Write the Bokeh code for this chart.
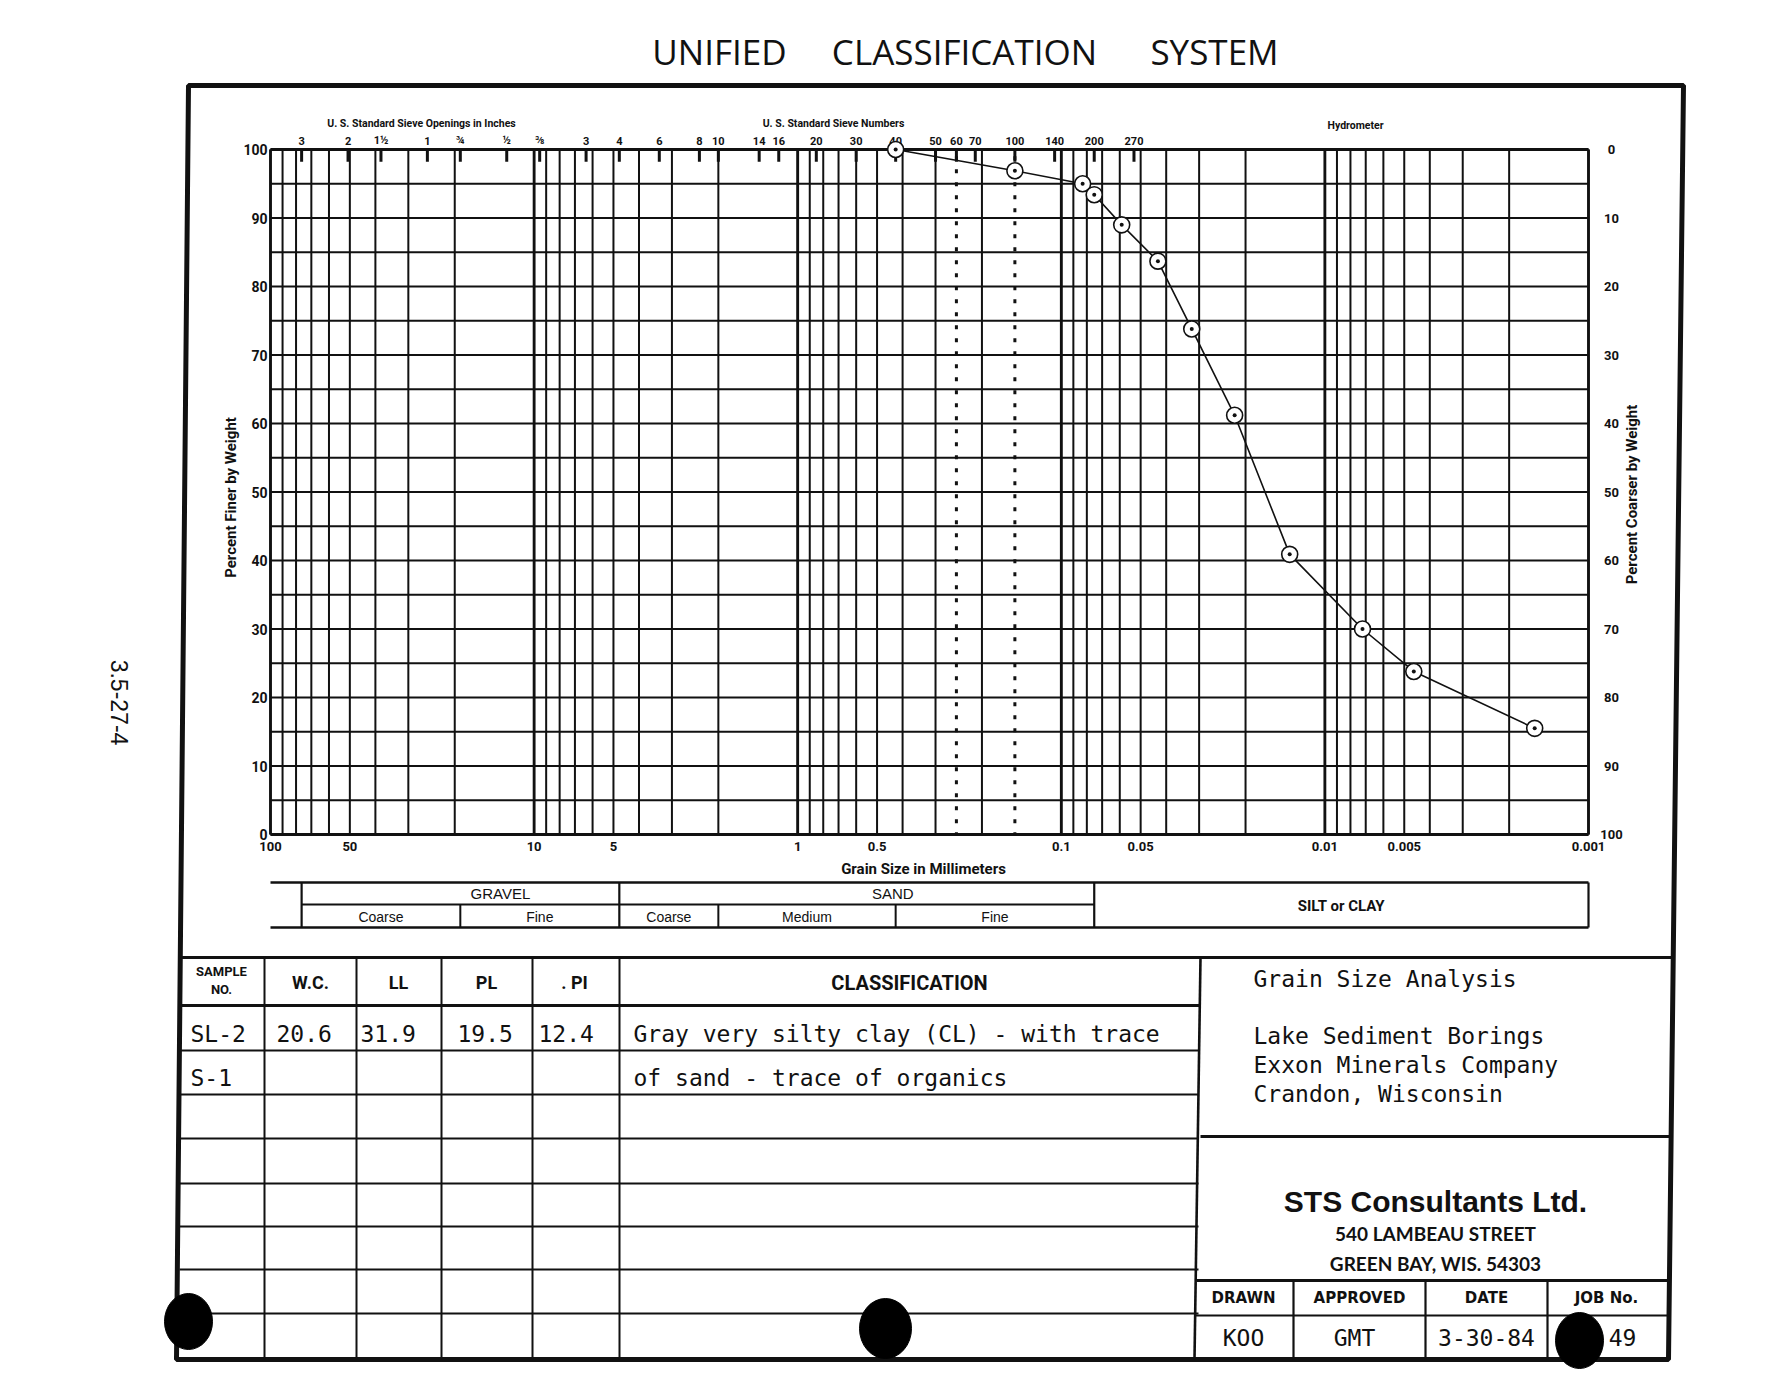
import math
from bokeh.plotting import figure
from bokeh.models import Range1d, LogScale
from bokeh.core.properties import value
from bokeh.embed import file_html
from bokeh.resources import INLINE

# ---------------- data read from the sheet ----------------
GRAIN_MM = [0.425, 0.15, 0.083, 0.075, 0.059, 0.043, 0.032, 0.022, 0.0136, 0.0072, 0.0046, 0.0016]
PCT_FINER = [100, 96.9, 95.0, 93.4, 89.0, 83.7, 73.8, 61.2, 40.9, 30.0, 23.8, 15.5]

SIEVE_LABELS = ["3", "2", "1½", "1", "¾", "½", "⅜", "3", "4", "6", "8", "10", "14", "16",
                "20", "30", "40", "50", "60", "70", "100", "140", "200", "270"]
SIEVE_MM = [76.2, 50.8, 38.1, 25.4, 19.05, 12.7, 9.525, 6.35, 4.75, 3.35, 2.36, 2.0, 1.40, 1.18,
            0.85, 0.60, 0.425, 0.30, 0.25, 0.212, 0.15, 0.106, 0.075, 0.053]

X_TICK_MM = [100, 50, 10, 5, 1, 0.5, 0.1, 0.05, 0.01, 0.005, 0.001]
X_TICK_LABELS = ["100", "50", "10", "5", "1", "0.5", "0.1", "0.05", "0.01", "0.005", "0.001"]
Y_TICKS = [0, 10, 20, 30, 40, 50, 60, 70, 80, 90, 100]
Y_GRID = [0, 5, 10, 15, 20, 25, 30, 35, 40, 45, 50, 55, 60, 65, 70, 75, 80, 85, 90, 95, 100]
GRID_MM = [100, 90, 80, 70, 60, 50, 40, 30, 20,
           10, 9, 8, 7, 6, 5, 4, 3, 2,
           1, 0.9, 0.8, 0.7, 0.6, 0.5, 0.4, 0.3, 0.2,
           0.1, 0.09, 0.08, 0.07, 0.06, 0.05, 0.04, 0.03, 0.02,
           0.01, 0.009, 0.008, 0.007, 0.006, 0.005, 0.004, 0.003, 0.002, 0.001]
DECADE_MM = [100, 10, 1, 0.1, 0.01, 0.001]
DOTTED_MM = [0.25, 0.15]

BAND_MAIN_BOUNDS = [76.2, 4.75, 0.075, 0.001]
BAND_SUB_BOUNDS = [19.05, 2.0, 0.425]
MAIN_LABELS = ["GRAVEL", "SAND"]
SUB_LABELS = ["Coarse", "Fine", "Coarse", "Medium", "Fine"]
SUB_CELLS = [(76.2, 19.05), (19.05, 4.75), (4.75, 2.0), (2.0, 0.425), (0.425, 0.075)]
SILT_LABEL = "SILT or CLAY"

TABLE_HEADERS = ["W.C.", "LL", "PL", ". PI", "CLASSIFICATION"]
SAMPLE_NO = ["SL-2", "S-1"]
WC = ["20.6", ""]
LL = ["31.9", ""]
PL = ["19.5", ""]
PI = ["12.4", ""]
CLASSIFICATION = ["Gray very silty clay (CL) - with trace", "of sand - trace of organics"]
PROJECT_LINES = ["Grain Size Analysis", "Lake Sediment Borings", "Exxon Minerals Company", "Crandon, Wisconsin"]
FIRM = ["STS Consultants Ltd.", "540 LAMBEAU STREET", "GREEN BAY, WIS. 54303"]
SIGN_HEADERS = ["DRAWN", "APPROVED", "DATE", "JOB No."]
SIGN_VALUES = ["KOO", "GMT", "3-30-84", "49"]

# ---------------- page geometry (page pixels) ----------------
PL_, PR_, PT_, PB_ = 0, 1775, 0, 1372
X0, X1 = 270, 1588          # page x of 100 mm and of 0.001 mm
Y100, Y0 = 149, 834         # page y of 100 % and 0 %
DEC = (X1 - X0) / 5.0
PPP = (Y0 - Y100) / 100.0

gs_start = 10 ** (2 + (X0 - PL_) / DEC)
gs_end = 10 ** (2 - (PR_ - X0) / DEC)
pct_bottom = (Y0 - PB_) / PPP
pct_top = (Y0 - PT_) / PPP

p = figure(width=PR_ - PL_, height=PB_ - PT_,
           x_range=Range1d(PL_, PR_), y_range=Range1d(PB_, PT_),
           output_backend="svg", toolbar_location=None, min_border=0,
           x_axis_location=None, y_axis_location=None)
p.extra_x_ranges = {"gs": Range1d(gs_start, gs_end)}
p.extra_x_scales = {"gs": LogScale()}
p.extra_y_ranges = {"pct": Range1d(pct_bottom, pct_top)}
p.grid.visible = False
p.outline_line_color = None
p.background_fill_color = "white"
p.border_fill_color = "white"

BOLD = value("Roboto")
MONO = value("DejaVu Sans Mono")
INK = "#111111"

# ---------------- title & side note ----------------
p.text(x=[719, 964, 1214], y=[51, 51, 51], text=["UNIFIED", "CLASSIFICATION", "SYSTEM"],
       text_font=value("Open Sans"), text_font_size="35px", text_align="center",
       text_baseline="middle", text_color=INK)
p.text(x=[119], y=[702], text=["3.5-27-4"], angle=-math.pi / 2, text_font=value("Liberation Sans"),
       text_font_size="23px", text_align="center", text_baseline="middle", text_color=INK)

# ---------------- outer frame ----------------
p.patch(x=[188, 1683, 1668, 176], y=[85, 85, 1359, 1359], fill_color=None,
        line_color=INK, line_width=5)
p.line(x=[180, 1673], y=[957, 957], line_color=INK, line_width=3)

# ---------------- graph paper grid ----------------
p.multi_line(xs=[[v, v] for v in GRID_MM], ys=[[0, 100] for _ in GRID_MM],
             x_range_name="gs", y_range_name="pct", line_color=INK, line_width=2)
p.multi_line(xs=[[v, v] for v in DECADE_MM], ys=[[0, 100] for _ in DECADE_MM],
             x_range_name="gs", y_range_name="pct", line_color=INK, line_width=2.8)
p.multi_line(xs=[[100, 0.001] for _ in Y_GRID], ys=[[v, v] for v in Y_GRID],
             x_range_name="gs", y_range_name="pct", line_color=INK, line_width=1.8)
p.multi_line(xs=[[100, 0.001], [100, 0.001]], ys=[[0, 0], [100, 100]],
             x_range_name="gs", y_range_name="pct", line_color=INK, line_width=3)
# sieve tick marks along the top edge
p.multi_line(xs=[[v, v] for v in SIEVE_MM], ys=[[100, 98.2] for _ in SIEVE_MM],
             x_range_name="gs", y_range_name="pct", line_color=INK, line_width=3)
# dotted marker lines
p.multi_line(xs=[[v, v] for v in DOTTED_MM], ys=[[99, 0] for _ in DOTTED_MM],
             x_range_name="gs", y_range_name="pct", line_color=INK, line_width=3,
             line_dash="4 9")

# ---------------- axis texts ----------------
p.text(x=[421, 833, 1355], y=[123, 123, 125],
       text=["U. S. Standard Sieve Openings in Inches", "U. S. Standard Sieve Numbers", "Hydrometer"],
       text_font=BOLD, text_font_style="bold", text_font_size="10.5px",
       text_align="center", text_baseline="middle", text_color=INK)
p.text(x=SIEVE_MM, y=[140] * len(SIEVE_MM), text=SIEVE_LABELS, x_range_name="gs",
       text_font=BOLD, text_font_style="bold", text_font_size="11px",
       text_align="center", text_baseline="middle", text_color=INK)
p.text(x=[267] * len(Y_TICKS), y=Y_TICKS, text=[str(v) for v in Y_TICKS], y_range_name="pct",
       text_font=BOLD, text_font_style="bold", text_font_size="14px",
       text_align="right", text_baseline="middle", text_color=INK)
p.text(x=[1611] * len(Y_TICKS), y=Y_TICKS, text=[str(100 - v) for v in Y_TICKS], y_range_name="pct",
       text_font=BOLD, text_font_style="bold", text_font_size="13px",
       text_align="center", text_baseline="middle", text_color=INK)
p.text(x=X_TICK_MM, y=[846] * len(X_TICK_MM), text=X_TICK_LABELS, x_range_name="gs",
       text_font=BOLD, text_font_style="bold", text_font_size="13px",
       text_align="center", text_baseline="middle", text_color=INK)
p.text(x=[923], y=[868], text=["Grain Size in Millimeters"],
       text_font=BOLD, text_font_style="bold", text_font_size="15px",
       text_align="center", text_baseline="middle", text_color=INK)
p.text(x=[230], y=[497], text=["Percent Finer by Weight"], angle=math.pi / 2,
       text_font=BOLD, text_font_style="bold", text_font_size="15px",
       text_align="center", text_baseline="middle", text_color=INK)
p.text(x=[1631], y=[494], text=["Percent Coarser by Weight"], angle=math.pi / 2,
       text_font=BOLD, text_font_style="bold", text_font_size="15px",
       text_align="center", text_baseline="middle", text_color=INK)

# ---------------- gradation curve ----------------
p.line(GRAIN_MM, PCT_FINER, x_range_name="gs", y_range_name="pct", line_color=INK, line_width=1.6)
p.scatter(GRAIN_MM, PCT_FINER, x_range_name="gs", y_range_name="pct", marker="circle_dot",
          size=16, fill_color="white", line_color=INK, line_width=1.6)

# ---------------- classification band ----------------
BT, BM, BB = 882, 904, 927
p.multi_line(xs=[[100, 0.001], [100, 0.001]], ys=[[BT, BT], [BB, BB]], x_range_name="gs",
             line_color=INK, line_width=2.6)
p.multi_line(xs=[[76.2, 0.075]], ys=[[BM, BM]], x_range_name="gs", line_color=INK, line_width=1.8)
p.multi_line(xs=[[v, v] for v in BAND_MAIN_BOUNDS], ys=[[BT, BB] for _ in BAND_MAIN_BOUNDS],
             x_range_name="gs", line_color=INK, line_width=2.2)
p.multi_line(xs=[[v, v] for v in BAND_SUB_BOUNDS], ys=[[BM, BB] for _ in BAND_SUB_BOUNDS],
             x_range_name="gs", line_color=INK, line_width=2)
p.text(x=[math.sqrt(BAND_MAIN_BOUNDS[0] * BAND_MAIN_BOUNDS[1]),
          math.sqrt(BAND_MAIN_BOUNDS[1] * BAND_MAIN_BOUNDS[2])],
       y=[893, 893], text=MAIN_LABELS, x_offset=[40, 36], x_range_name="gs",
       text_font=value("Liberation Sans"), text_font_size="15px",
       text_align="center", text_baseline="middle", text_color=INK)
p.text(x=[math.sqrt(a * b) for a, b in SUB_CELLS], y=[916] * len(SUB_CELLS), text=SUB_LABELS,
       x_range_name="gs", text_font=value("Liberation Sans"), text_font_size="14px",
       text_align="center", text_baseline="middle", text_color=INK)
p.text(x=[math.sqrt(BAND_MAIN_BOUNDS[2] * BAND_MAIN_BOUNDS[3])], y=[905], text=[SILT_LABEL],
       x_range_name="gs", text_font=BOLD, text_font_style="bold", text_font_size="15px",
       text_align="center", text_baseline="middle", text_color=INK)

# ---------------- data table ----------------
COLS = [264, 356, 441, 532, 619]
ROWS = [1050, 1094, 1138, 1183, 1226, 1269, 1313]
p.multi_line(xs=[[c, c] for c in COLS], ys=[[957, 1359] for _ in COLS], line_color=INK, line_width=2)
p.line(x=[1200, 1194], y=[957, 1359], line_color=INK, line_width=2.6)
p.line(x=[180, 1200], y=[1005, 1005], line_color=INK, line_width=3)
p.multi_line(xs=[[179, 1198] for _ in ROWS], ys=[[r, r] for r in ROWS], line_color=INK, line_width=2)

p.text(x=[221, 221], y=[971, 989], text=["SAMPLE", "NO."], text_font=BOLD, text_font_style="bold",
       text_font_size="13px", text_align="center", text_baseline="middle", text_color=INK)
p.text(x=[310, 398, 486, 574], y=[982] * 4, text=TABLE_HEADERS[:4], text_font=BOLD,
       text_font_style="bold", text_font_size="18px", text_align="center",
       text_baseline="middle", text_color=INK)
p.text(x=[909], y=[982], text=[TABLE_HEADERS[4]], text_font=BOLD, text_font_style="bold",
       text_font_size="20px", text_align="center", text_baseline="middle", text_color=INK)

ROW_Y = [1033, 1077]
for col_x, vals in [(190, SAMPLE_NO), (276, WC), (360, LL), (457, PL), (538, PI), (633, CLASSIFICATION)]:
    p.text(x=[col_x] * len(vals), y=ROW_Y, text=vals, text_font=MONO, text_font_size="23px",
           text_align="left", text_baseline="middle", text_color=INK)

# ---------------- title block ----------------
p.line(x=[1200, 1672], y=[1136, 1136], line_color=INK, line_width=3)
p.line(x=[1196, 1669], y=[1280, 1280], line_color=INK, line_width=3)
p.line(x=[1195, 1668], y=[1315, 1315], line_color=INK, line_width=2.2)
p.multi_line(xs=[[c, c] for c in [1293, 1425, 1547]], ys=[[1280, 1359]] * 3, line_color=INK, line_width=2.2)

p.text(x=[1253] * 4, y=[978, 1035, 1064, 1093], text=PROJECT_LINES, text_font=MONO,
       text_font_size="23px", text_align="left", text_baseline="middle", text_color=INK)
p.text(x=[1435], y=[1201], text=[FIRM[0]], text_font=value("Liberation Sans"), text_font_style="bold",
       text_font_size="30px", text_align="center", text_baseline="middle", text_color=INK)
p.text(x=[1435, 1435], y=[1233, 1263], text=FIRM[1:], text_font=value("Lato"), text_font_style="bold",
       text_font_size="19px", text_align="center", text_baseline="middle", text_color=INK)
p.text(x=[1243, 1359, 1486, 1606], y=[1297] * 4, text=SIGN_HEADERS, text_font=value("DejaVu Sans"),
       text_font_style="bold", text_font_size="15px", text_align="center", text_baseline="middle",
       text_color=INK)
p.text(x=[1243, 1354, 1486, 1622], y=[1337] * 4, text=SIGN_VALUES, text_font=MONO,
       text_font_size="23px", text_align="center", text_baseline="middle", text_color=INK)

# ---------------- punch-hole marks ----------------
p.ellipse(x=[188, 885, 1579], y=[1321, 1328, 1340], width=[48, 52, 48], height=[56, 60, 56],
          fill_color="black", line_color="black")

open("out.html", "w").write(file_html(p, INLINE))
